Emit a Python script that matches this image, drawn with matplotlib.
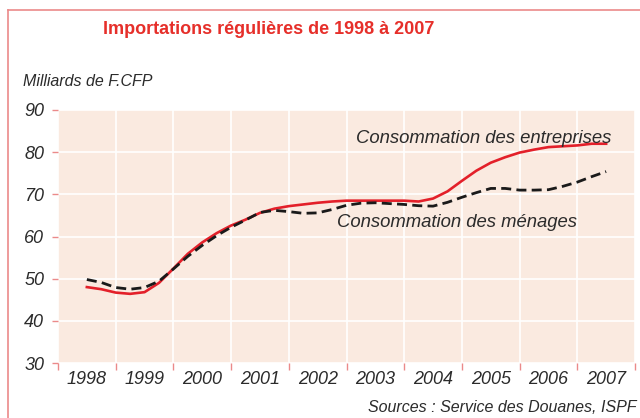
import matplotlib
matplotlib.use("Agg")
import matplotlib.pyplot as plt
from matplotlib.lines import Line2D
import numpy as np

# quarterly readings, mid-1998 to mid-2007 (milliards de F.CFP)
quarters = np.arange(1998.5, 2007.51, 0.25)

entreprises = [
    48.0, 47.5, 46.7, 46.4, 46.8, 49.0, 52.4, 55.9, 58.6, 60.8,
    62.6, 64.0, 65.6, 66.6, 67.2, 67.6, 68.0, 68.3, 68.5, 68.5,
    68.5, 68.5, 68.5, 68.3, 69.0, 70.7, 73.2, 75.6, 77.5, 78.8,
    79.9, 80.6, 81.2, 81.4, 81.6, 82.0, 82.0,
]
menages = [
    49.8, 49.1, 47.9, 47.5, 47.9, 49.4, 52.3, 55.3, 57.9, 60.2,
    62.2, 63.9, 65.7, 66.2, 65.9, 65.5, 65.6, 66.4, 67.4, 67.9,
    68.0, 67.8, 67.6, 67.3, 67.2, 68.1, 69.3, 70.4, 71.4, 71.4,
    71.0, 71.0, 71.1, 71.9, 72.9, 74.2, 75.4,
]
years = list(range(1998, 2008))
yticks = [30, 40, 50, 60, 70, 80, 90]

red = "#e3202a"
pink = "#eb8a8a"
txt = "#2b2b2b"
plt.rcParams["font.family"] = ["Liberation Sans", "DejaVu Sans"]

fig = plt.figure(figsize=(6.4, 4.18), dpi=100)
ax = fig.add_axes([58 / 640, 1 - 363 / 418, 577 / 640, 253 / 418])
ax.set_facecolor("#faeae0")
for s in ax.spines.values():
    s.set_visible(False)

ax.plot(quarters, entreprises, color=red, lw=1.9, zorder=3)
ax.plot(quarters, menages, color="#1a1a1a", lw=2.0, dashes=(3.6, 1.9), zorder=3)

ax.set_xlim(1998, 2008)
ax.set_ylim(30, 90)
ax.set_xticks(range(1998, 2009))
ax.set_xticklabels([])
ax.set_xticks([y + 0.5 for y in years], minor=True)
ax.set_xticklabels([str(y) for y in years], minor=True, style="italic",
                   fontsize=13, color=txt)
ax.tick_params(axis="x", which="major", length=5, color=pink, width=1, direction="out")
ax.tick_params(axis="x", which="minor", length=0, pad=6)
ax.set_yticks(yticks)
ax.set_yticklabels([str(v) for v in yticks], style="italic", fontsize=13, color=txt)
ax.tick_params(axis="y", length=4, color=pink, width=1, pad=6)
ax.grid(True, which="major", color="white", lw=1.2)
ax.set_axisbelow(True)

ax.text(0.517, 0.887, "Consommation des entreprises", transform=ax.transAxes,
        style="italic", fontsize=13.3, color=txt, va="center")
ax.text(0.483, 0.555, "Consommation des ménages", transform=ax.transAxes,
        style="italic", fontsize=13.3, color=txt, va="center")

fig.text(269 / 640, 1 - 30 / 418, "Importations régulières de 1998 à 2007",
         ha="center", va="center", fontsize=13, fontweight="bold", color="#e62f2a")
fig.text(23 / 640, 1 - 82 / 418, "Milliards de F.CFP", ha="left", va="center",
         style="italic", fontsize=11.5, color=txt)
fig.text(636 / 640, 1 - 407 / 418, "Sources : Service des Douanes, ISPF",
         ha="right", va="center", style="italic", fontsize=11.5, color=txt)

# frame lines of the box
fig.add_artist(Line2D([8 / 640, 1], [1 - 10 / 418] * 2, color=pink, lw=1.2))
fig.add_artist(Line2D([8 / 640] * 2, [0, 1 - 10 / 418], color=pink, lw=1.2))

fig.savefig("out.png", dpi=100)
